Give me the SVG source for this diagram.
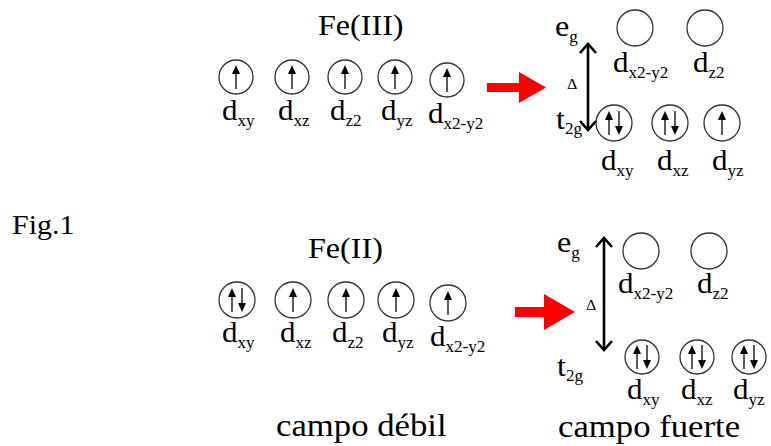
<svg xmlns="http://www.w3.org/2000/svg" width="771" height="446" viewBox="0 0 771 446">
<style>
text{font-family:"Liberation Serif","Times New Roman",serif;fill:#000}
.big{font-size:30px}
.lab{font-size:29px}
.sub{font-size:16px}
.orb{fill:#fff;stroke:#333;stroke-width:1.3}
.red{fill:#f00}
.dbl{fill:none;stroke:#000;stroke-width:2.6}
</style>
<defs>
<g id="up"><line x1="0" y1="12" x2="0" y2="-4" stroke="#000" stroke-width="1.3"/><polygon points="0,-12 -4,-3 4,-3" fill="#000"/></g>
<g id="down"><line x1="0" y1="-12" x2="0" y2="4" stroke="#000" stroke-width="1.3"/><polygon points="0,12 -4,3 4,3" fill="#000"/></g>
</defs>
<rect width="771" height="446" fill="#fff"/>

<text transform="translate(12,234) scale(1.07,1)" font-size="28">Fig.1</text>

<!-- Top: Fe(III) weak field -->
<g id="fe3-title"><text class="big" transform="translate(318,35) scale(1.07,1)">Fe(III)</text></g>
<g id="fe3-dxy"><circle class="orb" cx="236" cy="77" r="17"/><use href="#up" x="236" y="77"/><text class="lab" transform="translate(222,120) scale(1.07,1)">d<tspan class="sub" dy="6">xy</tspan></text></g>
<g id="fe3-dxz"><circle class="orb" cx="292" cy="77" r="17"/><use href="#up" x="292" y="77"/><text class="lab" transform="translate(278,120) scale(1.07,1)">d<tspan class="sub" dy="6">xz</tspan></text></g>
<g id="fe3-dz2"><circle class="orb" cx="345" cy="77" r="17"/><use href="#up" x="345" y="77"/><text class="lab" transform="translate(330,120) scale(1.07,1)">d<tspan class="sub" dy="6">z2</tspan></text></g>
<g id="fe3-dyz"><circle class="orb" cx="395" cy="77" r="17"/><use href="#up" x="395" y="77"/><text class="lab" transform="translate(381,120) scale(1.07,1)">d<tspan class="sub" dy="6">yz</tspan></text></g>
<g id="fe3-dx2y2"><circle class="orb" cx="447" cy="80" r="17"/><use href="#up" x="447" y="80"/><text class="lab" transform="translate(428,123) scale(1.07,1)">d<tspan class="sub" dy="6">x2-y2</tspan></text></g>

<!-- Top: strong field -->
<g id="fe3-eg"><text class="big" transform="translate(555,36) scale(1.07,1)">e<tspan class="sub" dy="6">g</tspan></text></g>
<g id="fe3-t2g"><text class="big" transform="translate(556,129) scale(1.07,1)">t<tspan class="sub" dy="5">2g</tspan></text></g>
<g id="fe3-delta"><text transform="translate(567,89) scale(1.07,1)" font-size="15">Δ</text></g>
<g id="fe3s-dx2y2"><circle class="orb" cx="635" cy="28" r="18"/><text class="lab" transform="translate(613,72) scale(1.07,1)">d<tspan class="sub" dy="6">x2-y2</tspan></text></g>
<g id="fe3s-dz2"><circle class="orb" cx="705" cy="28" r="18"/><text class="lab" transform="translate(693,72) scale(1.07,1)">d<tspan class="sub" dy="6">z2</tspan></text></g>
<g id="fe3s-dxy"><circle class="orb" cx="614" cy="123" r="18"/><use href="#up" x="609" y="123"/><use href="#down" x="619" y="123"/><text class="lab" transform="translate(601,170) scale(1.07,1)">d<tspan class="sub" dy="6">xy</tspan></text></g>
<g id="fe3s-dxz"><circle class="orb" cx="670" cy="123" r="18"/><use href="#up" x="665" y="123"/><use href="#down" x="675" y="123"/><text class="lab" transform="translate(657,170) scale(1.07,1)">d<tspan class="sub" dy="6">xz</tspan></text></g>
<g id="fe3s-dyz"><circle class="orb" cx="722" cy="123" r="18"/><use href="#up" x="722" y="123"/><text class="lab" transform="translate(712,170) scale(1.07,1)">d<tspan class="sub" dy="6">yz</tspan></text></g>

<!-- Bottom: Fe(II) weak field -->
<g id="fe2-title"><text class="big" transform="translate(308,258) scale(1.07,1)">Fe(II)</text></g>
<g id="fe2-dxy"><circle class="orb" cx="237" cy="300" r="18"/><use href="#up" x="232" y="300"/><use href="#down" x="242" y="300"/><text class="lab" transform="translate(222,342) scale(1.07,1)">d<tspan class="sub" dy="6">xy</tspan></text></g>
<g id="fe2-dxz"><circle class="orb" cx="293" cy="300" r="18"/><use href="#up" x="293" y="300"/><text class="lab" transform="translate(280,342) scale(1.07,1)">d<tspan class="sub" dy="6">xz</tspan></text></g>
<g id="fe2-dz2"><circle class="orb" cx="346" cy="300" r="18"/><use href="#up" x="346" y="300"/><text class="lab" transform="translate(332,342) scale(1.07,1)">d<tspan class="sub" dy="6">z2</tspan></text></g>
<g id="fe2-dyz"><circle class="orb" cx="396" cy="300" r="18"/><use href="#up" x="396" y="300"/><text class="lab" transform="translate(382,342) scale(1.07,1)">d<tspan class="sub" dy="6">yz</tspan></text></g>
<g id="fe2-dx2y2"><circle class="orb" cx="448" cy="303" r="18"/><use href="#up" x="448" y="303"/><text class="lab" transform="translate(430,346) scale(1.07,1)">d<tspan class="sub" dy="6">x2-y2</tspan></text></g>

<!-- Bottom: strong field -->
<g id="fe2-eg"><text class="big" transform="translate(557,252) scale(1.07,1)">e<tspan class="sub" dy="6">g</tspan></text></g>
<g id="fe2-t2g"><text class="big" transform="translate(557,376) scale(1.07,1)">t<tspan class="sub" dy="5">2g</tspan></text></g>
<g id="fe2-delta"><text transform="translate(586,310) scale(1.07,1)" font-size="15">Δ</text></g>
<g id="fe2s-dx2y2"><circle class="orb" cx="641" cy="251" r="18"/><text class="lab" transform="translate(618,293) scale(1.07,1)">d<tspan class="sub" dy="6">x2-y2</tspan></text></g>
<g id="fe2s-dz2"><circle class="orb" cx="709" cy="251" r="18"/><text class="lab" transform="translate(697,293) scale(1.07,1)">d<tspan class="sub" dy="6">z2</tspan></text></g>
<g id="fe2s-dxy"><circle class="orb" cx="642" cy="357" r="17"/><use href="#up" x="637" y="357"/><use href="#down" x="647" y="357"/><text class="lab" transform="translate(627,399) scale(1.07,1)">d<tspan class="sub" dy="6">xy</tspan></text></g>
<g id="fe2s-dxz"><circle class="orb" cx="697" cy="357" r="17"/><use href="#up" x="692" y="357"/><use href="#down" x="702" y="357"/><text class="lab" transform="translate(681,399) scale(1.07,1)">d<tspan class="sub" dy="6">xz</tspan></text></g>
<g id="fe2s-dyz"><circle class="orb" cx="749" cy="357" r="17"/><use href="#up" x="744" y="357"/><use href="#down" x="754" y="357"/><text class="lab" transform="translate(733,399) scale(1.07,1)">d<tspan class="sub" dy="6">yz</tspan></text></g>

<g id="captions">
<text transform="translate(276,436) scale(1.12,1)" font-size="31">campo débil</text>
<text transform="translate(558,437) scale(1.12,1)" font-size="31">campo fuerte</text>
</g>

<g id="connectors">
<polygon class="red" points="487,83 519,83 519,72 546,87.5 519,103 519,92 487,92"/>
<polygon class="red" points="515,307 544,307 544,294 575,312 544,330 544,317 515,317"/>
<line class="dbl" x1="588" y1="45" x2="588" y2="129"/>
<polyline class="dbl" points="580,53 588,44 596,53"/>
<polyline class="dbl" points="580,121 588,130 596,121"/>
<line class="dbl" x1="604" y1="239" x2="604" y2="349"/>
<polyline class="dbl" points="596,247 604,238 612,247"/>
<polyline class="dbl" points="596,341 604,350 612,341"/>
</g>
</svg>
